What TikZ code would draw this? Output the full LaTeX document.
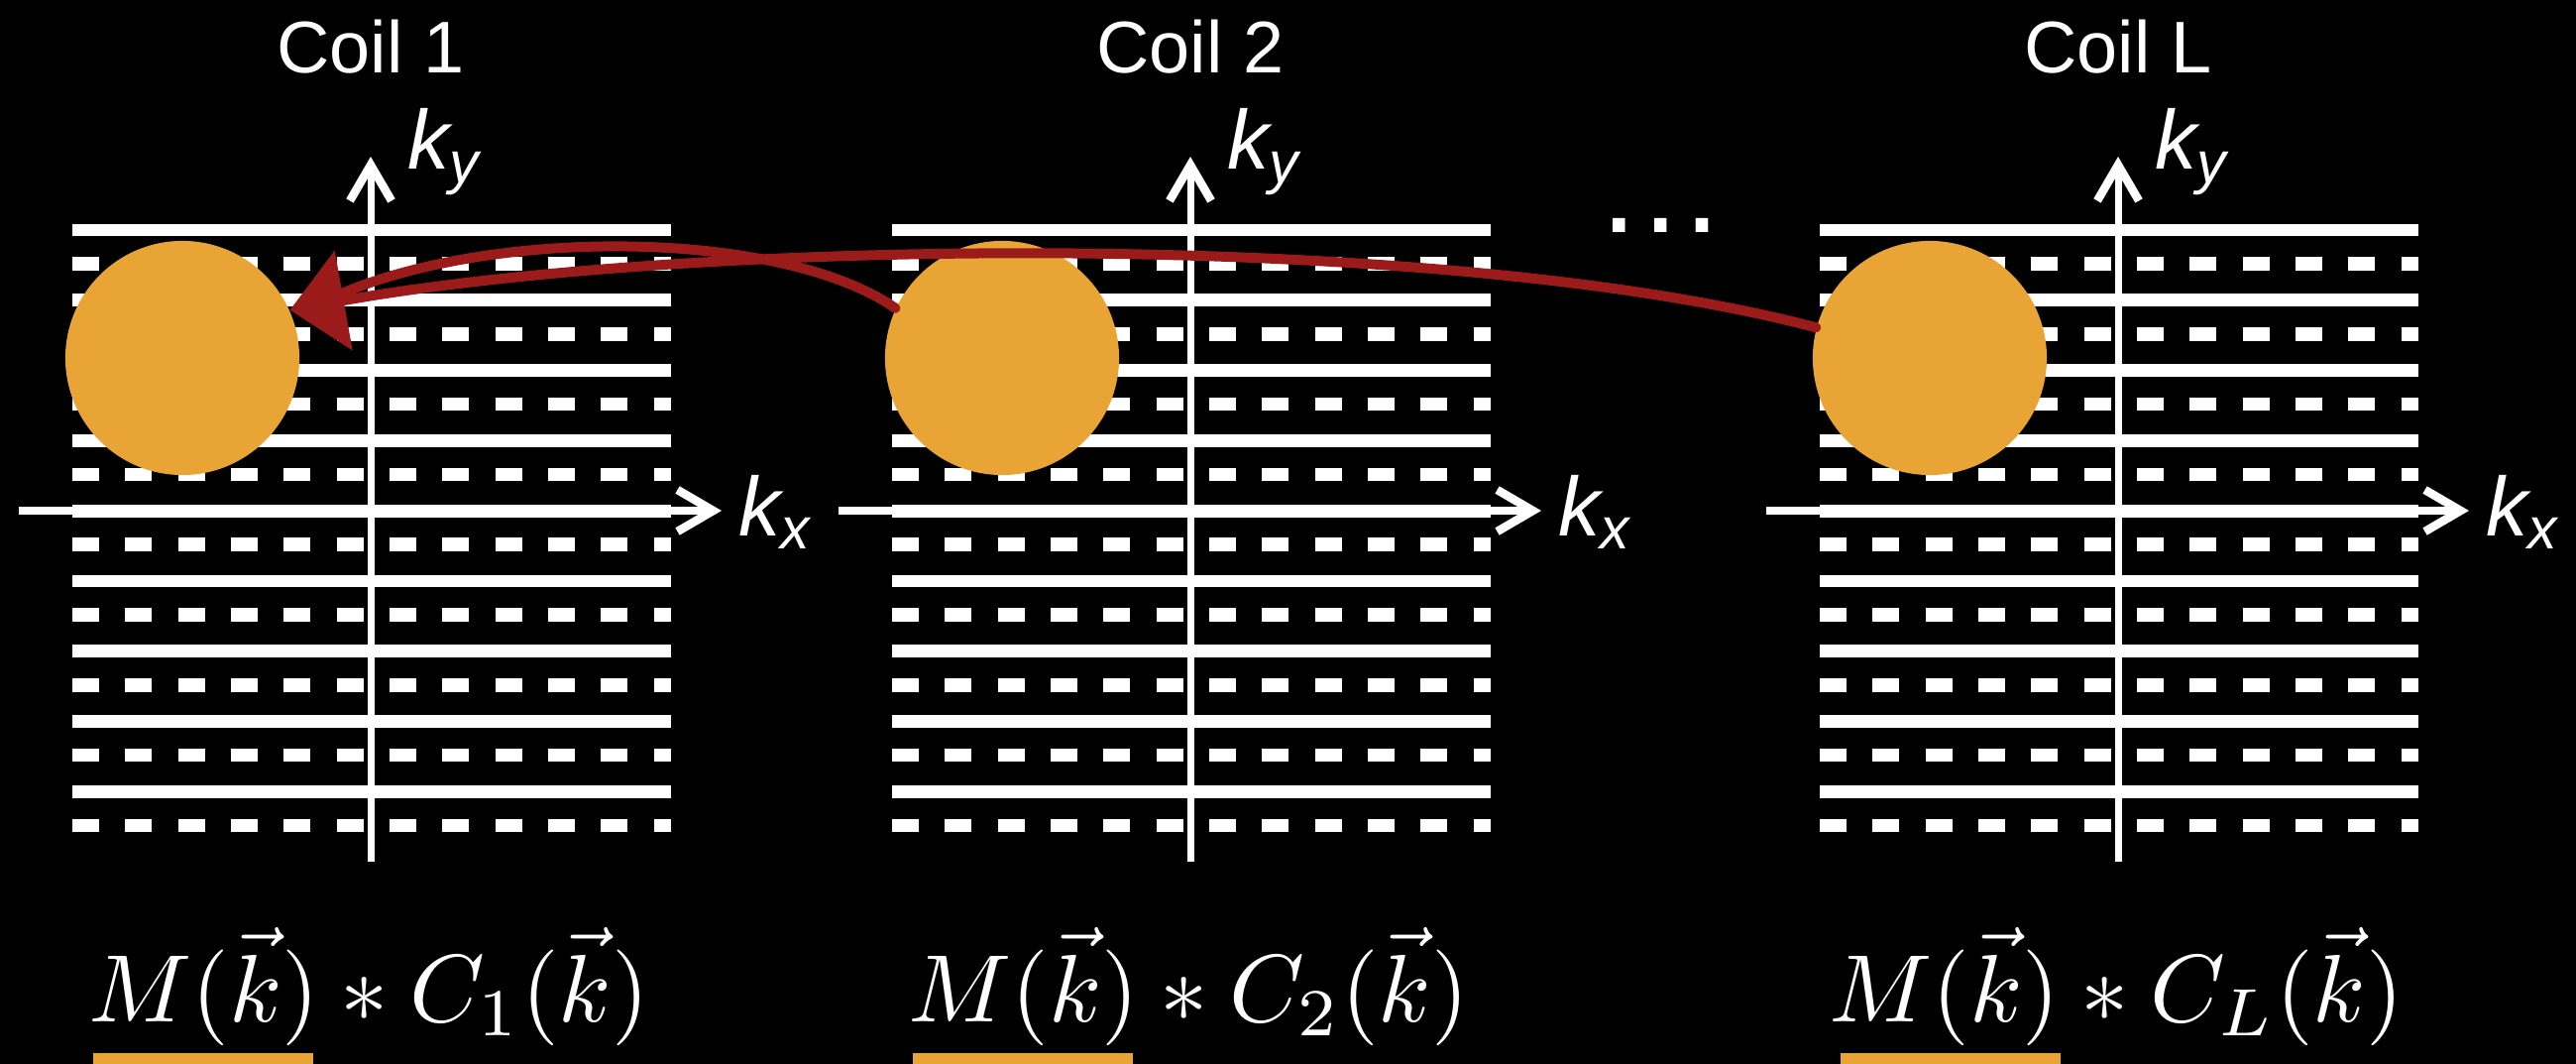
\documentclass[tikz,border=0pt]{standalone}
\usepackage{graphicx}
\usepackage[no-math]{fontspec}
\newfontfamily\coilfont{Liberation Sans}
\usetikzlibrary{arrows.meta}
\definecolor{coilorange}{HTML}{E8A535}
\definecolor{penred}{HTML}{9B1B1B}

\begin{document}
\begin{tikzpicture}[x=0.01cm, y=-0.01cm,
  kline/.style={white, line width=0.127cm},
  kdash/.style={white, line width=0.135cm, dash pattern=on 0.27cm off 0.263cm},
  kaxis/.style={white, line width=0.07cm,
                -{Straight Barb[length=0.36cm, width=0.42cm, line width=0.085cm]}},
  blob/.style={circle, fill=coilorange, minimum size=2.36cm, inner sep=0pt},
  coiltitle/.style={white, inner sep=0pt, anchor=base,
                    font=\coilfont\fontsize{21pt}{25pt}\selectfont},
  klab/.style={white, inner sep=0pt, anchor=base west,
               font=\coilfont\itshape\fontsize{24pt}{28pt}\selectfont},
  eqn/.style={white, inner sep=0pt, anchor=base},
  hl/.style={fill=coilorange},
  hand/.style={draw=penred, line width=0.1cm, line cap=round}
]
\useasboundingbox (0,0) rectangle (2599,1073);
\fill[black] (0,0) rectangle (2599,1073);

% k-space lines, one block per coil
\foreach \ox in {0,827,1763} {
  \foreach \i in {0,...,8} {
    \draw[kline] (\ox+73,232+70.8*\i) -- (\ox+677,232+70.8*\i);
    \draw[kdash] (\ox+73,266+70.8*\i) -- (\ox+677,266+70.8*\i);
  }
}

% axes, labels, coil blobs and formulas
\foreach \ox/\n in {0/1,827/2,1763/L} {
  \coordinate (xs\n) at (\ox+19,515);
  \coordinate (xe\n) at (\ox+728,515);
  \coordinate (ys\n) at (\ox+374,869);
  \coordinate (ye\n) at (\ox+374,158);
  \draw[kaxis] (xs\n) -- (xe\n);
  \draw[kaxis] (ys\n) -- (ye\n);
  \node[coiltitle] (t\n) at (\ox+374,74) {Coil \n};
  \node[klab] (ky\n) at (\ox+411,171) {k\textsubscript{y}};
  \node[klab] (kx\n) at (\ox+745,540) {k\textsubscript{x}};
  \node[blob] (c\n) at (\ox+184,361) {};
  \fill[hl] (\ox+94,1062) rectangle (\ox+316,1085);
  \node[eqn] (m\n) at (\ox+372,1030) {\scalebox{2.75}{$M(\vec{k}) * C_\n(\vec{k})$}};
}

\node[coiltitle, font=\coilfont\fontsize{37.6pt}{40pt}\selectfont] (more) at (1676,235) {…};

% red strokes back to coil 1
\coordinate (hd) at (340,298);
\draw[hand] (c2.155) .. controls (790,232) and (500,228) .. (hd);
\draw[hand, -{Triangle[length=0.55cm, width=1.0cm]}]
  (cL.165) .. controls (1450,230) and (700,240) .. (c1.24);
\end{tikzpicture}
\end{document}
